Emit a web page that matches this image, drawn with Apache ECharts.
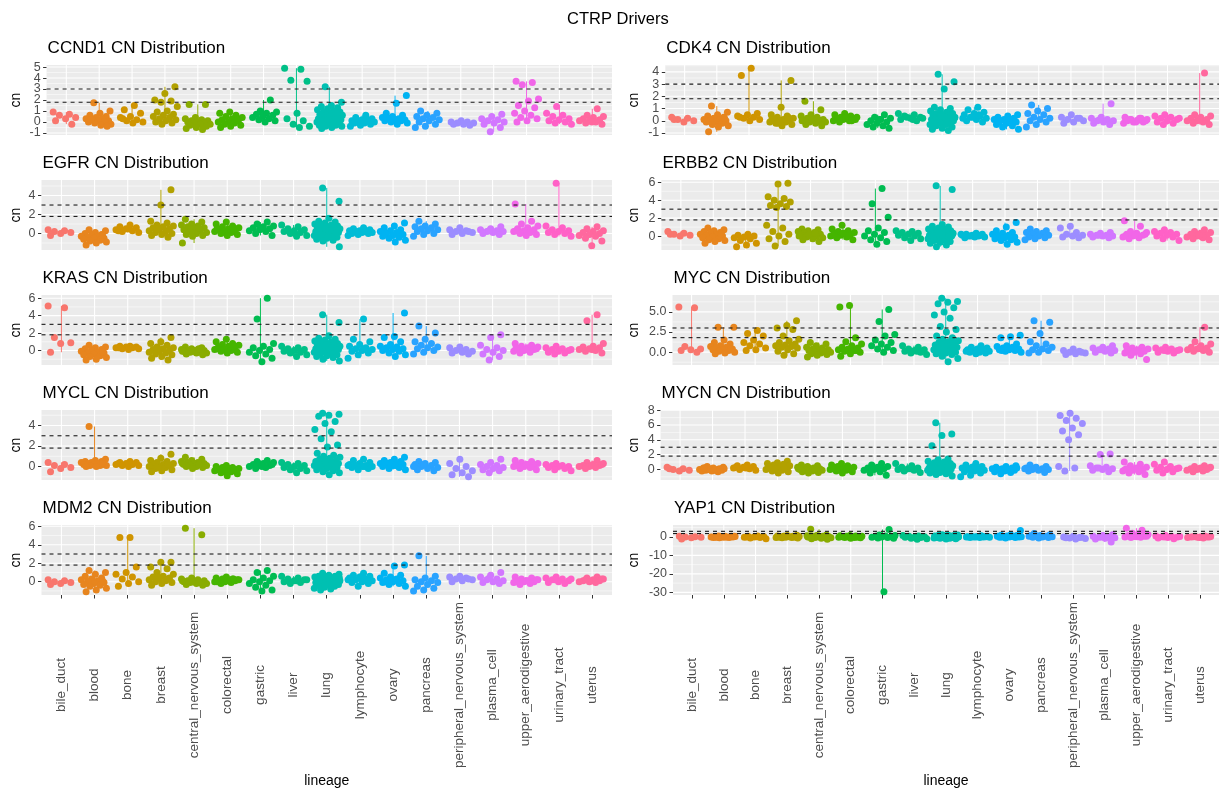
<!DOCTYPE html>
<html><head><meta charset="utf-8">
<script src="https://cdn.jsdelivr.net/npm/echarts@6/dist/echarts.min.js"></script>
<style>html,body{margin:0;padding:0;background:#fff}#c{width:1219px;height:791px}</style>
</head><body><div id="c"></div>
<script>
const lineages = ['bile_duct','blood','bone','breast','central_nervous_system','colorectal','gastric','liver','lung','lymphocyte','ovary','pancreas','peripheral_nervous_system','plasma_cell','upper_aerodigestive','urinary_tract','uterus'];
const genes = ['CCND1','CDK4','EGFR','ERBB2','KRAS','MYC','MYCL','MYCN','MDM2','YAP1'];
const thresholds = [1.8, 3];

const CCND1 = [
[0.9,0.7,0.6,0.4,0.3,0.1,-0.2],
[1.75,1.0,0.8,0.6,0.5,0.4,0.3,0.3,0.2,0.1,0.1,0.0,0.0,-0.1,-0.2,-0.3,0.2,-0.4],
[1.5,1.1,0.8,0.5,0.4,0.2,0.1,0.0,-0.1,0.3],
[3.2,2.6,2.0,1.9,1.8,1.4,1.0,0.9,0.7,0.6,0.5,0.4,0.3,0.2,0.1,0.0,-0.1,-0.2],
[1.6,1.6,0.4,0.3,0.2,0.1,0.1,0.0,0.0,-0.1,-0.1,-0.2,-0.2,-0.3,-0.4,-0.5,-0.6,-0.7],
[0.9,0.8,0.6,0.5,0.4,0.3,0.2,0.1,0.0,0.0,-0.1,-0.2,-0.3,-0.4,-0.5,0.2],
[2.0,1.0,0.9,0.8,0.7,0.6,0.5,0.4,0.3,0.2,0.1,0.0],
[4.9,4.8,3.8,3.7,0.8,0.3,0.1,-0.2,-0.4,-0.5],
[3.2,1.8,1.5,1.4,1.3,1.2,1.1,1.0,0.9,0.9,0.8,0.7,0.7,0.6,0.6,0.5,0.5,0.4,0.4,0.3,0.3,0.2,0.2,0.1,0.1,0.0,0.0,0.0,-0.1,-0.1,-0.2,-0.2,-0.3,-0.3,-0.4,-0.4,-0.5,-0.6,0.3,0.2],
[0.6,0.4,0.3,0.2,0.1,0.1,0.0,0.0,-0.1,-0.1,-0.2,-0.3,-0.4,0.2],
[2.4,1.7,0.8,0.6,0.5,0.4,0.3,0.3,0.2,0.2,0.1,0.1,0.0,-0.1,-0.2,0.4],
[1.0,0.8,0.6,0.5,0.4,0.3,0.2,0.1,0.0,-0.2,-0.4,-0.5],
[0.1,0.0,0.0,-0.1,-0.1,-0.2,-0.2,-0.3],
[0.7,0.5,0.3,0.2,0.1,0.0,-0.1,-0.2,-0.5,-0.9],
[3.7,3.6,3.4,2.1,1.9,1.5,1.3,1.0,0.8,0.6,0.4,0.3,0.1,0.0],
[1.4,0.8,0.6,0.5,0.3,0.2,0.1,0.0,-0.1,-0.2],
[1.2,0.6,0.5,0.4,0.3,0.2,0.1,0.1,0.0,-0.1,-0.2,0.0]];

const CDK4 = [
[0.3,0.2,0.1,0.0,-0.1,0.1],
[1.2,0.7,0.5,0.4,0.3,0.2,0.1,0.1,0.0,0.0,-0.1,-0.1,-0.2,-0.3,-0.4,-0.5,-0.9,0.2],
[4.3,3.7,0.6,0.5,0.4,0.3,0.2,0.1,0.0,0.3],
[3.3,1.1,0.5,0.4,0.3,0.2,0.1,0.1,0.0,0.0,-0.1,-0.1,-0.2,-0.3,-0.4,0.2,0.3,-0.2],
[1.6,0.9,0.5,0.4,0.3,0.2,0.1,0.1,0.0,0.0,-0.1,-0.1,-0.2,-0.3,-0.4,0.2,0.0,0.1],
[0.6,0.5,0.4,0.3,0.3,0.2,0.2,0.1,0.1,0.0,0.0,-0.1,0.1,0.2,0.3,0.0],
[0.5,0.3,0.2,0.1,0.0,-0.1,-0.2,-0.3,-0.4,-0.5,-0.6,0.1],
[0.6,0.5,0.4,0.3,0.2,0.1,0.0,0.3,0.2,0.1],
[3.8,3.2,2.6,1.1,1.0,0.9,0.8,0.7,0.6,0.6,0.5,0.5,0.4,0.4,0.3,0.3,0.2,0.2,0.1,0.1,0.0,0.0,0.0,-0.1,-0.1,-0.2,-0.2,-0.3,-0.3,-0.4,-0.5,-0.6,-0.7,-0.8,0.1,0.2,0.3,0.0,-0.1,0.4],
[1.1,0.9,0.7,0.6,0.5,0.4,0.3,0.2,0.1,0.0,-0.1,0.3,0.2,0.5],
[0.5,0.4,0.3,0.2,0.1,0.1,0.0,0.0,-0.1,-0.2,-0.3,-0.4,-0.5,-0.7,0.2,-0.1],
[1.3,1.0,0.8,0.6,0.5,0.3,0.2,0.1,0.0,-0.1,-0.3,-0.5],
[0.5,0.3,0.2,0.1,0.0,-0.1,-0.2,0.2],
[1.4,0.3,0.2,0.1,0.0,0.0,-0.1,-0.2,-0.3,0.1],
[0.3,0.2,0.1,0.1,0.0,0.0,-0.1,-0.1,-0.2,0.2,0.1,0.0,-0.1,0.1],
[0.5,0.4,0.3,0.2,0.1,0.0,-0.1,-0.2,-0.3,0.2],
[3.9,0.5,0.4,0.3,0.2,0.1,0.0,0.0,-0.1,-0.2,-0.3,0.1]];

const EGFR = [
[0.4,0.3,0.2,0.1,0.0,-0.2],
[0.4,0.3,0.1,0.0,-0.1,-0.2,-0.3,-0.3,-0.4,-0.5,-0.5,-0.6,-0.7,-0.8,-0.9,-1.0,-1.2,-0.2],
[0.9,0.7,0.6,0.5,0.4,0.3,0.2,0.1,0.5,0.3],
[4.6,3.0,1.3,1.1,0.9,0.8,0.7,0.6,0.5,0.4,0.3,0.2,0.1,0.0,-0.1,-0.2,-0.4,0.5],
[1.5,1.2,1.0,0.9,0.8,0.7,0.6,0.5,0.4,0.3,0.2,0.1,0.0,-0.1,-0.2,-0.3,-1.0,0.6],
[1.2,1.0,0.8,0.7,0.6,0.5,0.4,0.3,0.3,0.2,0.1,0.0,-0.1,-0.2,0.5,0.4],
[1.2,1.0,0.8,0.7,0.6,0.5,0.4,0.3,0.2,0.0,-0.2,0.5],
[0.9,0.7,0.5,0.4,0.3,0.2,0.1,0.0,-0.2,-0.3],
[4.8,3.4,1.6,1.3,1.2,1.1,1.0,0.9,0.8,0.8,0.7,0.6,0.6,0.5,0.5,0.4,0.4,0.3,0.3,0.2,0.2,0.1,0.1,0.0,0.0,-0.1,-0.1,-0.2,-0.2,-0.3,-0.4,-0.5,-0.6,-0.7,-0.8,-1.4,0.3,0.2,0.0,0.5],
[0.6,0.5,0.4,0.3,0.3,0.2,0.2,0.1,0.1,0.0,0.0,-0.1,-0.2,0.2],
[1.1,0.8,0.6,0.4,0.3,0.2,0.1,0.0,-0.1,-0.2,-0.3,-0.4,-0.5,-0.7,-0.9,0.0],
[1.3,1.0,0.8,0.7,0.6,0.5,0.4,0.3,0.2,0.0,-0.1,-0.3],
[0.6,0.4,0.3,0.2,0.1,0.0,-0.1,0.2],
[0.7,0.5,0.4,0.3,0.2,0.2,0.1,0.0,-0.1,0.3],
[3.1,1.3,1.0,0.8,0.6,0.5,0.4,0.3,0.2,0.1,0.0,-0.1,-0.2,0.3],
[5.3,0.8,0.6,0.4,0.3,0.2,0.1,0.0,-0.1,-0.3],
[0.7,0.5,0.3,0.2,0.1,0.0,-0.1,-0.2,-0.3,-0.5,-0.8,-1.3]];

const ERBB2 = [
[0.5,0.3,0.2,0.1,0.0,0.2],
[0.9,0.7,0.6,0.5,0.4,0.3,0.2,0.1,0.0,0.0,-0.1,-0.2,-0.3,-0.4,-0.5,-0.6,-0.8,0.2],
[0.2,0.1,0.0,-0.1,-0.2,-0.3,-0.5,-0.8,-1.0,-1.2],
[5.9,5.8,4.4,4.2,4.0,3.8,3.6,3.4,3.3,3.2,1.2,0.9,0.5,0.2,0.0,-0.3,-0.6,-1.1],
[0.8,0.7,0.6,0.5,0.4,0.3,0.2,0.1,0.1,0.0,-0.1,-0.2,-0.3,-0.4,-0.6,0.2,0.0,0.3],
[1.2,0.8,0.6,0.5,0.4,0.3,0.2,0.2,0.1,0.0,-0.1,-0.2,-0.4,0.3,0.1,0.0],
[5.3,3.6,2.1,0.9,0.6,0.4,0.2,0.0,-0.2,-0.4,-0.6,-0.9],
[0.6,0.5,0.4,0.3,0.2,0.1,0.0,-0.2,-0.3,-0.5],
[5.6,5.2,1.3,1.1,1.0,0.9,0.8,0.7,0.6,0.6,0.5,0.5,0.4,0.4,0.3,0.3,0.2,0.2,0.1,0.1,0.0,0.0,0.0,-0.1,-0.1,-0.2,-0.2,-0.3,-0.4,-0.5,-0.6,-0.7,-0.8,-1.0,-1.2,0.2,0.1,0.0,-0.1,0.3],
[0.3,0.2,0.2,0.1,0.1,0.0,0.0,-0.1,-0.1,-0.2,0.1,0.0,0.2,0.1],
[1.5,1.0,0.6,0.4,0.3,0.2,0.1,0.0,-0.1,-0.2,-0.3,-0.4,-0.5,-0.7,-0.9,0.0],
[0.8,0.6,0.5,0.4,0.3,0.2,0.1,0.0,-0.1,-0.2,-0.3,-0.4],
[1.1,0.9,0.4,0.2,0.1,0.0,-0.1,-0.2],
[0.4,0.3,0.2,0.1,0.1,0.0,0.0,-0.1,-0.2,0.1],
[1.7,1.1,0.5,0.4,0.3,0.2,0.1,0.0,-0.1,-0.2,-0.3,0.2,0.1,0.0],
[0.7,0.5,0.4,0.3,0.2,0.1,0.0,-0.1,-0.3,-0.5],
[0.7,0.5,0.4,0.3,0.2,0.1,0.0,-0.1,-0.2,-0.3,-0.4,0.1]];

const KRAS = [
[5.1,4.9,1.5,0.9,0.8,-0.2],
[0.6,0.4,0.3,0.2,0.1,0.0,-0.1,-0.2,-0.3,-0.3,-0.4,-0.5,-0.6,-0.7,-0.8,-1.0,-1.1,-0.2],
[0.5,0.5,0.4,0.4,0.3,0.3,0.2,0.2,0.1,0.3],
[1.5,1.0,0.8,0.6,0.4,0.3,0.2,0.1,0.0,-0.1,-0.2,-0.3,-0.4,-0.5,-0.7,-0.9,-1.1,0.2],
[0.4,0.3,0.2,0.1,0.1,0.0,0.0,-0.1,-0.1,-0.2,-0.2,-0.3,-0.3,-0.4,-0.5,0.0,-0.1,0.2],
[1.3,1.0,0.8,0.7,0.6,0.5,0.4,0.3,0.2,0.1,0.0,-0.1,-0.2,-0.3,0.2,0.4],
[6.0,3.6,0.8,0.5,0.3,0.1,0.0,-0.2,-0.4,-0.6,-0.9,-1.3],
[0.5,0.3,0.2,0.1,0.0,-0.1,-0.2,-0.3,-0.5,-0.7],
[4.1,3.2,1.7,1.4,1.3,1.2,1.1,1.0,0.9,0.8,0.7,0.7,0.6,0.5,0.5,0.4,0.4,0.3,0.3,0.2,0.2,0.1,0.1,0.0,0.0,-0.1,-0.1,-0.2,-0.3,-0.4,-0.5,-0.6,-0.7,-0.8,-1.0,-1.2,0.3,0.1,0.0,0.6],
[3.6,1.3,1.0,0.7,0.5,0.3,0.2,0.1,0.0,-0.1,-0.3,-0.5,-0.9,0.2],
[4.3,1.6,1.5,1.0,0.7,0.5,0.4,0.3,0.2,0.1,0.0,-0.1,-0.3,-0.5,-0.7,0.2],
[2.8,2.0,1.3,1.0,0.8,0.6,0.4,0.3,0.2,0.0,-0.2,-0.4],
[0.4,0.3,0.1,0.0,-0.1,-0.2,-0.3,-0.4],
[1.8,1.5,0.6,0.3,0.1,0.0,-0.2,-0.4,-0.7,-1.1],
[0.8,0.6,0.5,0.4,0.3,0.2,0.1,0.0,-0.1,-0.2,-0.3,0.2,0.1,0.3],
[0.5,0.3,0.2,0.1,0.0,-0.1,-0.2,-0.3,-0.4,0.1],
[4.1,3.4,0.8,0.5,0.4,0.3,0.2,0.1,0.0,-0.1,-0.3,0.1]];

const MYC = [
[5.6,5.5,0.7,0.4,0.3,0.2,0.0],
[3.1,3.1,1.5,1.2,1.0,0.8,0.7,0.6,0.5,0.4,0.3,0.3,0.2,0.1,0.0,-0.1,-0.2,0.4],
[2.7,2.3,2.0,1.5,1.2,1.0,0.8,0.5,0.3,0.2],
[3.9,3.3,3.0,2.8,2.0,1.6,1.4,1.2,1.0,0.9,0.8,0.7,0.6,0.5,0.3,0.1,-0.2,-0.4],
[1.2,1.0,0.8,0.6,0.5,0.4,0.3,0.2,0.2,0.1,0.0,0.0,-0.1,-0.2,-0.3,-0.4,-0.6,0.1],
[5.8,5.6,1.8,1.3,1.0,0.8,0.6,0.5,0.4,0.3,0.2,0.1,0.0,-0.2,-0.5,0.2],
[5.3,3.8,2.2,2.0,1.5,1.2,1.0,0.8,0.6,0.4,0.2,0.0],
[0.8,0.6,0.4,0.3,0.2,0.1,0.0,-0.1,-0.3,0.1],
[6.7,6.3,6.2,6.0,5.5,5.0,4.6,4.2,3.2,2.8,2.5,2.0,1.8,1.6,1.4,1.3,1.2,1.1,1.0,0.9,0.8,0.7,0.6,0.5,0.5,0.4,0.3,0.3,0.2,0.1,0.0,-0.1,-0.2,-0.3,-0.5,-0.8,-1.2,0.4,0.2,0.6],
[0.8,0.6,0.5,0.4,0.3,0.2,0.2,0.1,0.0,0.0,-0.1,-0.2,0.1,0.3],
[2.1,1.9,1.8,1.0,0.8,0.7,0.6,0.5,0.4,0.3,0.3,0.2,0.1,0.0,0.5,0.2],
[3.9,3.7,2.3,1.3,1.0,0.8,0.6,0.4,0.3,0.2,0.0,-0.1],
[0.4,0.2,0.1,0.0,-0.1,-0.2,-0.3,0.0],
[0.8,0.6,0.5,0.4,0.3,0.2,0.1,0.0,-0.1,0.3],
[0.8,0.6,0.5,0.4,0.3,0.2,0.1,0.0,-0.1,-0.2,-0.4,-0.9,0.2,0.3],
[0.6,0.5,0.4,0.3,0.2,0.1,0.0,-0.1,0.2,0.3],
[3.1,1.3,1.0,0.8,0.6,0.5,0.4,0.3,0.2,0.1,0.0,0.5]];

const MYCL = [
[0.4,0.2,0.1,-0.1,-0.2,-0.5],
[3.9,0.7,0.6,0.5,0.5,0.4,0.4,0.3,0.3,0.2,0.2,0.2,0.1,0.1,0.1,0.0,0.0,0.3],
[0.5,0.4,0.4,0.3,0.2,0.2,0.1,0.1,0.0,0.3],
[1.2,0.8,0.6,0.5,0.4,0.3,0.2,0.1,0.1,0.0,0.0,-0.1,-0.2,-0.3,-0.4,-0.5,0.2,-0.1],
[0.9,0.7,0.6,0.5,0.4,0.4,0.3,0.3,0.2,0.2,0.1,0.1,0.0,0.0,-0.1,-0.2,0.3,0.2],
[0.1,0.0,-0.1,-0.1,-0.2,-0.2,-0.3,-0.3,-0.4,-0.4,-0.5,-0.6,-0.7,-0.9,-0.2,-0.3],
[0.6,0.5,0.4,0.3,0.2,0.1,0.1,0.0,-0.1,-0.2,0.2,0.0],
[0.4,0.3,0.2,0.1,0.0,-0.1,-0.2,-0.3,-0.4,-0.6],
[5.2,5.1,5.0,4.9,4.4,4.2,3.6,3.4,2.7,2.1,1.9,1.3,1.1,1.0,0.9,0.8,0.7,0.6,0.5,0.5,0.4,0.4,0.3,0.3,0.2,0.2,0.1,0.1,0.0,0.0,-0.1,-0.2,-0.3,-0.4,-0.5,-0.6,-0.8,0.2,0.0,0.4],
[0.7,0.6,0.4,0.3,0.2,0.1,0.1,0.0,0.0,-0.1,-0.2,-0.3,0.1,0.0],
[0.9,0.7,0.6,0.5,0.4,0.3,0.3,0.2,0.2,0.1,0.0,-0.1,-0.2,-0.3,0.1,0.4],
[0.5,0.4,0.3,0.2,0.1,0.0,-0.1,-0.2,-0.3,-0.4,0.2,0.0],
[0.7,0.3,0.0,-0.2,-0.4,-0.6,-0.8,-1.0],
[0.7,0.4,0.2,0.1,0.0,-0.1,-0.2,-0.3,-0.4,-0.6],
[0.6,0.5,0.4,0.3,0.2,0.1,0.1,0.0,0.0,-0.1,-0.2,-0.3,0.2,0.1],
[0.3,0.2,0.1,0.1,0.0,0.0,-0.1,-0.2,-0.3,-0.4],
[0.6,0.4,0.3,0.2,0.1,0.1,0.0,0.0,-0.1,-0.2,0.2,0.1]];

const MYCN = [
[0.3,0.1,0.0,-0.1,-0.2,0.1],
[0.4,0.3,0.2,0.2,0.1,0.1,0.0,0.0,-0.1,-0.1,-0.2,-0.2,-0.3,0.0,0.1,-0.1,0.2,0.0],
[0.6,0.5,0.4,0.3,0.2,0.1,0.0,-0.1,0.2,0.3],
[1.1,0.9,0.8,0.7,0.6,0.5,0.4,0.3,0.2,0.1,0.0,-0.1,-0.2,-0.3,-0.5,0.3,0.2,0.0],
[0.6,0.5,0.4,0.3,0.2,0.2,0.1,0.1,0.0,0.0,-0.1,-0.1,-0.2,-0.3,-0.4,-0.5,0.1,0.0],
[0.8,0.6,0.5,0.4,0.3,0.2,0.1,0.1,0.0,0.0,-0.1,-0.2,-0.3,-0.5,0.2,0.1],
[0.8,0.6,0.4,0.3,0.2,0.1,0.0,-0.1,-0.3,-0.5,-0.8,0.2],
[0.8,0.5,0.3,0.2,0.1,0.0,-0.1,-0.2,-0.4,0.1],
[6.3,4.8,4.6,3.2,1.4,1.3,1.1,1.0,0.9,0.8,0.7,0.6,0.6,0.5,0.5,0.4,0.4,0.3,0.3,0.2,0.2,0.1,0.1,0.0,0.0,0.0,-0.1,-0.1,-0.2,-0.2,-0.3,-0.4,-0.5,-0.6,-0.7,-0.9,0.3,0.1,0.2,0.0],
[0.8,0.6,0.4,0.3,0.2,0.1,0.0,-0.1,-0.2,-0.3,-0.5,-0.8,-1.0,0.1],
[0.5,0.4,0.3,0.2,0.1,0.1,0.0,0.0,-0.1,-0.2,-0.3,-0.4,-0.6,0.2,-0.1,0.0],
[0.6,0.4,0.3,0.2,0.1,0.0,0.0,-0.1,-0.2,-0.4,0.2,0.1],
[7.6,7.3,6.9,6.6,6.2,5.6,5.2,4.7,4.0,0.4,0.2,-0.2],
[2.1,2.0,0.5,0.3,0.2,0.1,0.0,-0.1,-0.3,0.2],
[1.0,0.7,0.5,0.3,0.2,0.1,0.0,-0.1,-0.2,-0.3,-0.5,-0.7,0.1,0.0],
[1.0,0.7,0.4,0.3,0.1,0.0,-0.1,-0.3,-0.5,0.2],
[0.5,0.4,0.3,0.2,0.1,0.0,0.0,-0.1,-0.2,-0.3,0.2,0.1]];

const MDM2 = [
[0.2,0.1,0.0,-0.1,-0.2,-0.3],
[1.2,1.0,0.8,0.6,0.4,0.3,0.2,0.1,0.0,-0.1,-0.2,-0.3,-0.4,-0.5,-0.7,-0.9,-1.1,0.1],
[4.8,4.8,1.6,1.0,0.8,0.5,0.3,0.0,-0.2,-0.5],
[2.1,2.1,1.6,1.4,1.0,0.8,0.6,0.5,0.4,0.3,0.2,0.1,0.0,-0.1,-0.2,-0.4,0.3,0.5],
[5.8,5.1,0.4,0.3,0.2,0.1,0.1,0.0,0.0,-0.1,-0.1,-0.2,-0.2,-0.3,-0.4,0.0,0.1,-0.1],
[0.5,0.4,0.3,0.3,0.2,0.2,0.1,0.1,0.0,0.0,-0.1,-0.2,0.2,0.1,0.0,0.3],
[1.2,1.0,0.6,0.4,0.2,0.1,0.0,-0.2,-0.4,-0.6,-0.9,-1.0],
[0.6,0.4,0.3,0.2,0.1,0.0,-0.1,-0.2,0.2,0.1],
[0.9,0.8,0.7,0.6,0.6,0.5,0.5,0.4,0.4,0.3,0.3,0.2,0.2,0.1,0.1,0.0,0.0,0.0,-0.1,-0.1,-0.2,-0.2,-0.3,-0.3,-0.4,-0.5,-0.6,-0.7,-0.8,-0.9,0.2,0.1,0.0,-0.1,0.3,0.4,-0.2,0.1,0.5,-0.4],
[0.9,0.7,0.6,0.5,0.4,0.3,0.2,0.1,0.0,-0.1,-0.2,-0.5,0.2,0.3],
[1.8,1.7,0.9,0.7,0.5,0.4,0.3,0.2,0.1,0.0,-0.1,-0.2,-0.3,-0.5,0.2,0.0],
[2.8,0.6,0.4,0.2,0.1,0.0,-0.1,-0.3,-0.5,-0.7,-0.9,-1.0],
[0.6,0.5,0.4,0.3,0.2,0.1,0.0,0.3],
[1.0,0.7,0.5,0.3,0.2,0.1,0.0,-0.1,-0.2,0.4],
[0.5,0.4,0.3,0.2,0.1,0.1,0.0,0.0,-0.1,-0.2,-0.3,0.2,0.1,0.0],
[0.5,0.4,0.3,0.2,0.1,0.0,-0.1,-0.2,0.2,0.3],
[0.5,0.4,0.3,0.2,0.1,0.1,0.0,0.0,-0.1,0.2,0.3,0.1]];

const YAP1 = [
[0.3,0.1,0.0,-0.2,-0.5,-1.2],
[0.5,0.4,0.3,0.2,0.1,0.1,0.0,0.0,-0.1,-0.1,-0.2,-0.3,-0.4,-0.5,0.2,0.0,-0.2,0.3],
[0.5,0.3,0.2,0.0,-0.2,-0.4,-0.6,-1.0,0.1,-0.1],
[0.9,0.7,0.5,0.4,0.3,0.2,0.1,0.0,-0.1,-0.2,-0.3,-0.4,-0.5,-0.6,0.2,0.0,-0.1,0.3],
[4.1,1.0,0.8,0.6,0.4,0.3,0.2,0.1,0.0,-0.1,-0.3,-0.5,-0.7,-1.0,-1.3,0.2,0.0,-0.2],
[0.8,0.6,0.5,0.4,0.3,0.2,0.1,0.0,-0.1,-0.2,-0.3,-0.4,-0.5,-0.7,0.2,0.0],
[4.0,1.0,0.7,0.5,0.3,0.1,0.0,-0.2,-0.4,-0.6,-0.8,-29.7],
[0.8,0.5,0.3,0.1,0.0,-0.2,-0.4,-0.7,-1.0,-1.3],
[1.2,1.0,0.9,0.8,0.7,0.6,0.5,0.5,0.4,0.4,0.3,0.3,0.2,0.2,0.1,0.1,0.0,0.0,0.0,-0.1,-0.1,-0.2,-0.2,-0.3,-0.3,-0.4,-0.5,-0.6,-0.7,-0.8,-1.0,-1.2,0.2,0.1,0.0,-0.1,0.3,0.4,-0.2,0.1],
[0.6,0.4,0.3,0.2,0.1,0.0,-0.1,-0.2,-0.3,-0.4,0.1,0.0,-0.1,0.2],
[3.4,1.2,0.9,0.7,0.5,0.3,0.2,0.1,0.0,-0.1,-0.2,-0.4,-0.6,0.1,0.4,0.0],
[1.8,1.1,0.8,0.6,0.4,0.2,0.1,0.0,-0.2,-0.4,-0.6,0.3],
[0.3,0.0,-0.3,-0.6,-0.9,-1.2,-0.5,-0.2],
[1.2,0.8,0.4,0.1,-0.2,-0.5,-0.8,-1.2,-2.8,0.0],
[4.7,3.6,2.0,1.2,0.9,0.6,0.4,0.2,0.0,-0.2,-0.4,0.3,0.1,0.5],
[0.8,0.5,0.3,0.1,-0.1,-0.3,-0.6,-1.0,0.0,0.2],
[0.5,0.3,0.2,0.1,0.0,-0.1,-0.2,-0.4,-0.6,0.1,0.0,-0.3]];

const CCND1_ticks = ['-1','0','1','2','3','4','5'];
const CDK4_ticks = ['-1','0','1','2','3','4'];
const EGFR_ticks = ['0','2','4'];
const ERBB2_ticks = ['0','2','4','6'];
const KRAS_ticks = ['0','2','4','6'];
const MYC_ticks = ['0.0','2.5','5.0'];
const MYCL_ticks = ['0','2','4'];
const MYCN_ticks = ['0','2','4','6','8'];
const MDM2_ticks = ['0','2','4','6'];
const YAP1_ticks = ['-30','-20','-10','0'];

// ---------- drawing ----------
const geneValues = [CCND1, CDK4, EGFR, ERBB2, KRAS, MYC, MYCL, MYCN, MDM2, YAP1];
const geneTicks = [CCND1_ticks, CDK4_ticks, EGFR_ticks, ERBB2_ticks, KRAS_ticks, MYC_ticks, MYCL_ticks, MYCN_ticks, MDM2_ticks, YAP1_ticks];

// ggplot2 hue palette (HCL, c=100, l=65)
function hcl(h, c, l) {
  const hr = h * Math.PI / 180, U = c * Math.cos(hr), V = c * Math.sin(hr);
  const Xn = 95.047, Yn = 100, Zn = 108.883;
  const den = Xn + 15 * Yn + 3 * Zn, un = 4 * Xn / den, vn = 9 * Yn / den;
  const Y = l > 8 ? Yn * Math.pow((l + 16) / 116, 3) : Yn * l / 903.3;
  const u = U / (13 * l) + un, v = V / (13 * l) + vn;
  const X = 9 * Y * u / (4 * v), Z = Y * (12 - 3 * u - 20 * v) / (4 * v);
  const x = X / 100, y = Y / 100, z = Z / 100;
  const lin = [3.2404542 * x - 1.5371385 * y - 0.4985314 * z,
               -0.9692660 * x + 1.8760108 * y + 0.0415560 * z,
               0.0556434 * x - 0.2040259 * y + 1.0572252 * z];
  return '#' + lin.map(t => {
    let g = t <= 0.0031308 ? 12.92 * t : 1.055 * Math.pow(t, 1 / 2.4) - 0.055;
    g = Math.max(0, Math.min(1, g));
    return Math.round(g * 255).toString(16).padStart(2, '0');
  }).join('');
}
const nL = lineages.length;
const colors = lineages.map((_, i) => hcl(15 + 360 / nL * i, 100, 65));

const FONT = 'Liberation Sans, Arial, sans-serif';
const panelLeft = [46.6, 665.3, 41.5, 661.4, 41.5, 672.5, 41.5, 660.6, 41.5, 673];
const colRight = [612, 1243];
const cnCenterX = [15.8, 634.5];
const PANEL_TOP0 = 65, ROW_STEP = 115, PANEL_H = 70;

const grids = [], xAxes = [], yAxes = [], series = [], titles = [];
titles.push({ text: 'CTRP Drivers', left: 567, top: 11, padding: 0,
  textStyle: { fontFamily: FONT, fontSize: 16.5, fontWeight: 'normal', color: '#000' } });

genes.forEach((gene, k) => {
  const col = k % 2, row = Math.floor(k / 2);
  const isBottom = row === 4;
  const left = panelLeft[k], top = PANEL_TOP0 + ROW_STEP * row;
  const width = colRight[col] - left;
  const vals = geneValues[k];
  let mn = Infinity, mx = -Infinity;
  vals.forEach(a => a.forEach(v => { if (v < mn) mn = v; if (v > mx) mx = v; }));
  const r = mx - mn, lo = mn - 0.05 * r, hi = mx + 0.05 * r;
  const tickStr = geneTicks[k], tickVal = tickStr.map(Number);
  const step = tickVal[1] - tickVal[0];
  const ext = [tickVal[0] - step].concat(tickVal, [tickVal[tickVal.length - 1] + step]);
  const minors = [];
  for (let i = 0; i + 1 < ext.length; i++) {
    const m = (ext[i] + ext[i + 1]) / 2;
    if (m >= lo && m <= hi) minors.push(m);
  }

  grids.push({ left, top, width, height: PANEL_H, show: true, backgroundColor: '#EBEBEB', borderWidth: 0, containLabel: false });
  titles.push({ text: gene + ' CN Distribution', left: left + 1, top: top - 25, padding: 0,
    textStyle: { fontFamily: FONT, fontSize: 17, fontWeight: 'normal', color: '#000' } });

  const catIdx = lineages.map((_, i) => i);
  xAxes.push({
    gridIndex: k, type: 'value', min: -0.6, max: nL - 0.4,
    axisLine: { show: false, onZero: false }, splitLine: { show: false },
    axisTick: { show: isBottom, customValues: catIdx, length: 3.5, lineStyle: { color: '#333', width: 1 } },
    axisLabel: { show: isBottom, customValues: catIdx, interval: 0, formatter: v => lineages[Math.round(v)] || '',
      rotate: 90, align: 'center', verticalAlign: 'middle', margin: 90,
      showMinLabel: true, showMaxLabel: true, hideOverlap: false,
      fontFamily: FONT, fontSize: 13.5, color: '#4D4D4D' },
    name: isBottom ? 'lineage' : '', nameLocation: 'middle', nameGap: 179,
    nameTextStyle: { fontFamily: FONT, fontSize: 14, color: '#000' }
  });
  yAxes.push({
    gridIndex: k, type: 'value', min: lo, max: hi,
    axisLine: { show: false, onZero: false }, splitLine: { show: false },
    axisTick: { show: true, customValues: tickVal, length: 3.5, lineStyle: { color: '#333', width: 1 } },
    axisLabel: { show: false },
    name: 'cn', nameLocation: 'middle', nameGap: left - cnCenterX[col] - 7,
    nameTextStyle: { fontFamily: FONT, fontSize: 14, color: '#000' }
  });

  // y tick labels, placed through the y scale
  series.push({
    type: 'custom', xAxisIndex: k, yAxisIndex: k, silent: true, clip: false, z: 5,
    data: tickVal.map((t, i) => [0, t, i]),
    renderItem: (params, api) => {
      const cs = params.coordSys, p = api.coord([0, api.value(1)]);
      return { type: 'text', style: { text: tickStr[api.value(2)], x: cs.x - 6, y: p[1],
        align: 'right', verticalAlign: 'middle', fill: '#4D4D4D', fontSize: 12.5, fontFamily: FONT } };
    }
  });

  // panel grid lines (white)
  const gl = [];
  catIdx.forEach(i => gl.push([i, 0, 0]));
  tickVal.forEach(t => { if (t >= lo && t <= hi) gl.push([0, t, 1]); });
  minors.forEach(m => gl.push([0, m, 2]));
  series.push({
    type: 'custom', xAxisIndex: k, yAxisIndex: k, silent: true, z: 1, data: gl,
    renderItem: (params, api) => {
      const cs = params.coordSys, kind = api.value(2);
      if (kind === 0) {
        const p = api.coord([api.value(0), 0]);
        return { type: 'line', shape: { x1: p[0], y1: cs.y, x2: p[0], y2: cs.y + cs.height },
          style: { stroke: '#FFFFFF', lineWidth: 1.07 } };
      }
      const p = api.coord([0, api.value(1)]);
      return { type: 'line', shape: { x1: cs.x, y1: p[1], x2: cs.x + cs.width, y2: p[1] },
        style: { stroke: '#FFFFFF', lineWidth: kind === 1 ? 1.07 : 0.53 } };
    }
  });

  // violin extents (min to max line per lineage)
  const ext2 = vals.map((a, i) => [i, Math.min(...a), Math.max(...a)]);
  series.push({
    type: 'custom', xAxisIndex: k, yAxisIndex: k, silent: true, z: 2, data: ext2,
    renderItem: (params, api) => {
      const i = api.value(0);
      const p1 = api.coord([i, api.value(1)]), p2 = api.coord([i, api.value(2)]);
      return { type: 'line', shape: { x1: p1[0], y1: p1[1], x2: p2[0], y2: p2[1] },
        style: { stroke: colors[i], lineWidth: 1 } };
    }
  });

  // jittered points
  const pts = [];
  vals.forEach((a, i) => a.forEach((v, j) => {
    const off = (((j * 0.6180339887 + i * 0.293) % 1) - 0.5) * 0.8;
    pts.push([i + off, v, i]);
  }));
  series.push({
    type: 'scatter', xAxisIndex: k, yAxisIndex: k, silent: true, z: 3, data: pts,
    symbol: 'circle', symbolSize: 7,
    itemStyle: { color: p => colors[p.data[2]], opacity: 1 }
  });

  // threshold dashed lines
  series.push({
    type: 'custom', xAxisIndex: k, yAxisIndex: k, silent: true, z: 4,
    data: thresholds.map(t => [0, t]),
    renderItem: (params, api) => {
      const cs = params.coordSys, p = api.coord([0, api.value(1)]);
      return { type: 'line', shape: { x1: cs.x, y1: p[1], x2: cs.x + cs.width, y2: p[1] },
        style: { stroke: '#1A1A1A', lineWidth: 1.1, lineDash: [4, 4] } };
    }
  });
});

const chart = echarts.init(document.getElementById('c'), null, { renderer: 'canvas' });
chart.setOption({ animation: false, backgroundColor: '#FFFFFF', title: titles, grid: grids, xAxis: xAxes, yAxis: yAxes, series });
</script></body></html>
